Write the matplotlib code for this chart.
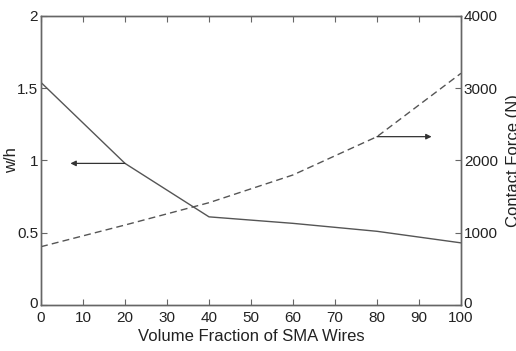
import matplotlib
matplotlib.use("Agg")
import matplotlib.pyplot as plt
import matplotlib.transforms as mtransforms

plt.rcParams["font.family"] = ["Liberation Sans", "DejaVu Sans"]

# data
volume_fraction = [0, 20, 40, 60, 80, 100]
w_over_h = [1.54, 0.98, 0.61, 0.565, 0.51, 0.43]
contact_force = [807, 1107, 1416, 1800, 2330, 3207]

x_ticks = [0, 10, 20, 30, 40, 50, 60, 70, 80, 90, 100]
left_ticks = [0, 0.5, 1, 1.5, 2]
left_labels = ["0", "0.5", "1", "1.5", "2"]
right_ticks = [0, 1000, 2000, 3000, 4000]

line_col = "#555555"
spine_col = "#666666"

fig = plt.figure(figsize=(5.16, 3.51), dpi=100)
ax = fig.add_axes([41 / 516, 1 - 305 / 351, 420 / 516, 289 / 351])
ax2 = ax.twinx()

ax.plot(volume_fraction, w_over_h, color=line_col, lw=1.0)
ax2.plot(volume_fraction, contact_force, color=line_col, lw=1.0, ls=(0, (5, 3)))

ax.set_xlim(0, 100)
ax.set_ylim(0, 2)
ax2.set_ylim(0, 4000)
ax.set_xticks(x_ticks)
ax.set_yticks(left_ticks)
ax.set_yticklabels(left_labels)
ax2.set_yticks(right_ticks)

for a in (ax, ax2):
    for s in a.spines.values():
        s.set_color(spine_col)
        s.set_linewidth(1.0)
    a.tick_params(direction="in", length=4, color=spine_col, labelsize=11,
                  labelcolor="#222222", pad=2)
ax.tick_params(axis="x", top=True, pad=4)

# lift the bottom right "0" a little so it clears the "100" below
shift = mtransforms.ScaledTranslation(0, 3 / 100, fig.dpi_scale_trans)
for lbl in (ax2.get_yticklabels()[0], ax.get_yticklabels()[0]):
    lbl.set_transform(lbl.get_transform() + shift)

ax.set_xlabel("Volume Fraction of SMA Wires", fontsize=12, color="#222222", labelpad=3)
ax.set_ylabel("w/h", fontsize=12, color="#222222")
ax.yaxis.set_label_coords(-0.052, 0.5)
ax2.set_ylabel("Contact Force (N)", fontsize=12, color="#222222", labelpad=6)

# arrows pointing to the matching axis
ax.annotate("", xy=(7, w_over_h[1]), xytext=(volume_fraction[1], w_over_h[1]),
            arrowprops=dict(arrowstyle="-|>", color="#333333", lw=0.9,
                            mutation_scale=8, shrinkA=0, shrinkB=0))
ax2.annotate("", xy=(93, contact_force[4]), xytext=(volume_fraction[4], contact_force[4]),
             arrowprops=dict(arrowstyle="-|>", color="#333333", lw=0.9,
                             mutation_scale=8, shrinkA=0, shrinkB=0))

fig.savefig("out.png", dpi=100, facecolor="white")
